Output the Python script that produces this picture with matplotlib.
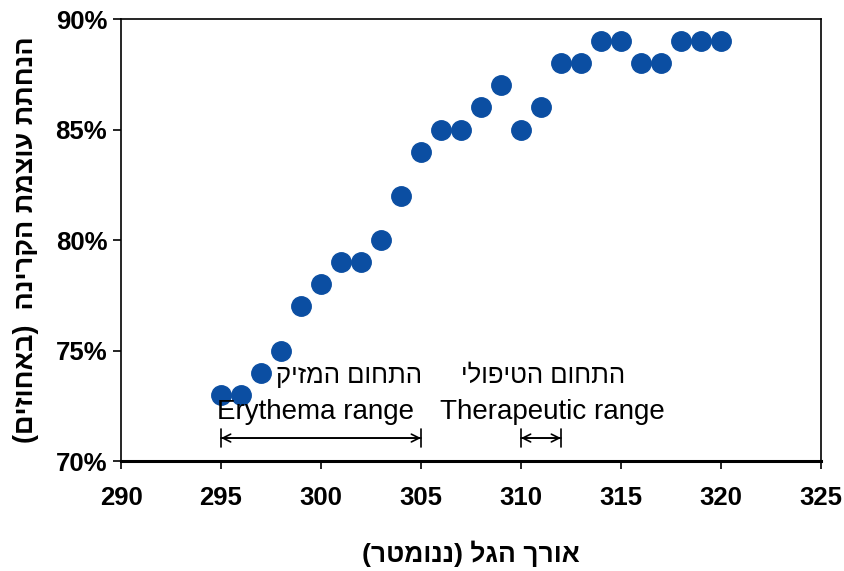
import matplotlib
matplotlib.use("Agg")
import matplotlib.pyplot as plt
import numpy as np
from matplotlib.ticker import FuncFormatter

plt.rcParams["font.family"] = ["Liberation Sans", "DejaVu Sans"]

# wavelength (nm) vs. attenuation (%)
wavelength = [295, 296, 297, 298, 299, 300, 301, 302, 303, 304, 305, 306, 307,
              308, 309, 310, 311, 312, 313, 314, 315, 316, 317, 318, 319, 320]
attenuation = [73, 73, 74, 75, 77, 78, 79, 79, 80, 82, 84, 85, 85,
               86, 87, 85, 86, 88, 88, 89, 89, 88, 88, 89, 89, 89]

x_ticks = [290, 295, 300, 305, 310, 315, 320, 325]
y_ticks = [70, 75, 80, 85, 90]

erythema_range = (295, 305)
therapeutic_range = (310, 312)

xlabel_he = "אורך הגל (ננומטר)"
ylabel_he = "הנחתת עוצמת הקרינה  (באחוזים)"
erythema_he = "התחום המזיק"
therapeutic_he = "התחום הטיפולי"


def visual(s):
    # matplotlib has no bidi support: reverse and mirror brackets
    r = s[::-1]
    return r.translate(str.maketrans("()", ")("))


fig = plt.figure(figsize=(8.44, 5.71), dpi=100)
ax = fig.add_axes([0.1434, 0.1926, 0.8293, 0.7741])

ax.plot(wavelength, attenuation, linestyle="none", marker="o", ms=14,
        color="#0B4EA2", mec="#0B4EA2")

ax.set_xlim(290, 325)
ax.set_ylim(70, 90)
ax.set_xticks(x_ticks)
ax.set_yticks(y_ticks)
ax.yaxis.set_major_formatter(FuncFormatter(lambda v, p: f"{v:.0f}%"))

for lab in ax.get_xticklabels() + ax.get_yticklabels():
    lab.set_fontweight("bold")
ax.tick_params(axis="both", direction="out", length=6, width=1.2,
               labelsize=18.5, pad=4)
ax.tick_params(axis="x", pad=12)

for side in ["left", "top", "right"]:
    ax.spines[side].set_linewidth(1.2)
ax.spines["bottom"].set_linewidth(2.2)

ax.set_xlabel(visual(xlabel_he), fontsize=19, fontweight="bold", labelpad=22)
ax.set_ylabel(visual(ylabel_he), fontsize=19.5, fontweight="bold", labelpad=12)

# range annotations: double arrow plus end bars
arrow_y = 71.04
for lo, hi in [erythema_range, therapeutic_range]:
    ax.annotate("", xy=(hi, arrow_y), xytext=(lo, arrow_y),
                arrowprops=dict(arrowstyle="<->", color="black", lw=1.2,
                                shrinkA=0, shrinkB=0, mutation_scale=14))
    ax.annotate("", xy=(hi, arrow_y), xytext=(lo, arrow_y),
                arrowprops=dict(arrowstyle="|-|,widthA=0.45,widthB=0.45",
                                color="black", lw=1.2,
                                shrinkA=0, shrinkB=0, mutation_scale=14))

ax.text(294.8, 72.2, "Erythema range", fontsize=20, ha="left", va="center")
ax.text(305.05, 73.85, visual(erythema_he), fontsize=18.5, ha="right", va="center")
ax.text(305.95, 72.2, "Therapeutic range", fontsize=20, ha="left", va="center")
ax.text(315.2, 73.85, visual(therapeutic_he), fontsize=18.5, ha="right", va="center")

fig.savefig("out.png", dpi=100)
plt.close(fig)
